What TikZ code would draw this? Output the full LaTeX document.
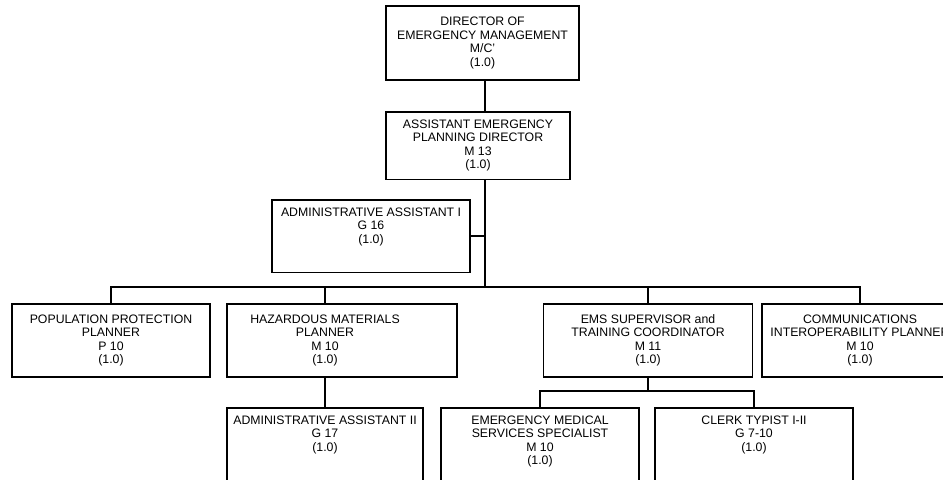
\documentclass[tikz,border=0pt]{standalone}
\usepackage{fontspec}
\setmainfont{Liberation Sans}
\usetikzlibrary{positioning}

\begin{document}
\begin{tikzpicture}[
  font=\fontsize{7pt}{7.7pt}\selectfont,
  line width=0.9pt,
  box/.style={draw,anchor=north,align=center,inner xsep=0.04cm,inner ysep=0.16cm},
  mid/.style={box,minimum height=1.46cm},
  low/.style={box,minimum width=3.96cm,text depth=1.2cm}
]
\useasboundingbox (0,0) rectangle (18.86,-9.58);
\clip (0,0) rectangle (18.86,-9.58);
% ---- top ----
\node[box,minimum width=3.86cm,minimum height=1.48cm] (dir) at (9.65,-0.10) {DIRECTOR OF\\EMERGENCY MANAGEMENT\\M/C'\\(1.0)};
\node[box,minimum width=3.68cm,minimum height=1.20cm] (aepd) at (9.56,-2.22) {ASSISTANT EMERGENCY\\PLANNING DIRECTOR\\M 13\\(1.0)};
\node[box,minimum width=3.96cm,text depth=0.42cm] (aa1) at (7.42,-3.98) {ADMINISTRATIVE ASSISTANT I\\G 16\\(1.0)};
\coordinate (hub) at (9.70,-5.74);
% ---- second row ----
\node[mid,minimum width=3.96cm] (pop) at (2.22,-6.06) {POPULATION PROTECTION\\PLANNER\\P 10\\(1.0)};
\node[mid,minimum width=4.60cm,label={[align=center,xshift=-0.34cm]center:{HAZARDOUS MATERIALS\\PLANNER\\M 10\\(1.0)}}] (haz) at (6.84,-6.06) {};
\node[mid,minimum width=4.18cm] (emss) at (12.96,-6.06) {EMS SUPERVISOR and\\TRAINING COORDINATOR\\M 11\\(1.0)};
\node[mid,minimum width=3.92cm] (comm) at (17.20,-6.06) {COMMUNICATIONS\\INTEROPERABILITY PLANNER\\M 10\\(1.0)};
% ---- third row ----
\node[low,minimum width=3.92cm] (aa2) at (6.50,-8.14) {ADMINISTRATIVE ASSISTANT II\\G 17\\(1.0)};
\node[low] (ems) at (10.80,-8.14) {EMERGENCY MEDICAL\\SERVICES SPECIALIST\\M 10\\(1.0)};
\node[low] (clerk) at (15.08,-8.14) {CLERK TYPIST I-II\\G 7-10\\(1.0)};
\coordinate (fork) at (12.96,-7.82);
% ---- lines ----
\draw (dir.south -| hub) -- (aepd.north -| hub);
\draw (aepd.south -| hub) -- (hub);
\draw (aa1.east) -- (aa1.east -| hub);
\draw (pop.north) |- (hub) -| (comm.north);
\draw (aa2.north |- hub) -- (aa2.north |- haz.north);
\draw (emss.north |- hub) -- (emss.north);
\draw (haz.south -| aa2.north) -- (aa2.north);
\draw (emss.south) -- (fork);
\draw (ems.north) |- (fork) -| (clerk.north);
\end{tikzpicture}
\end{document}
